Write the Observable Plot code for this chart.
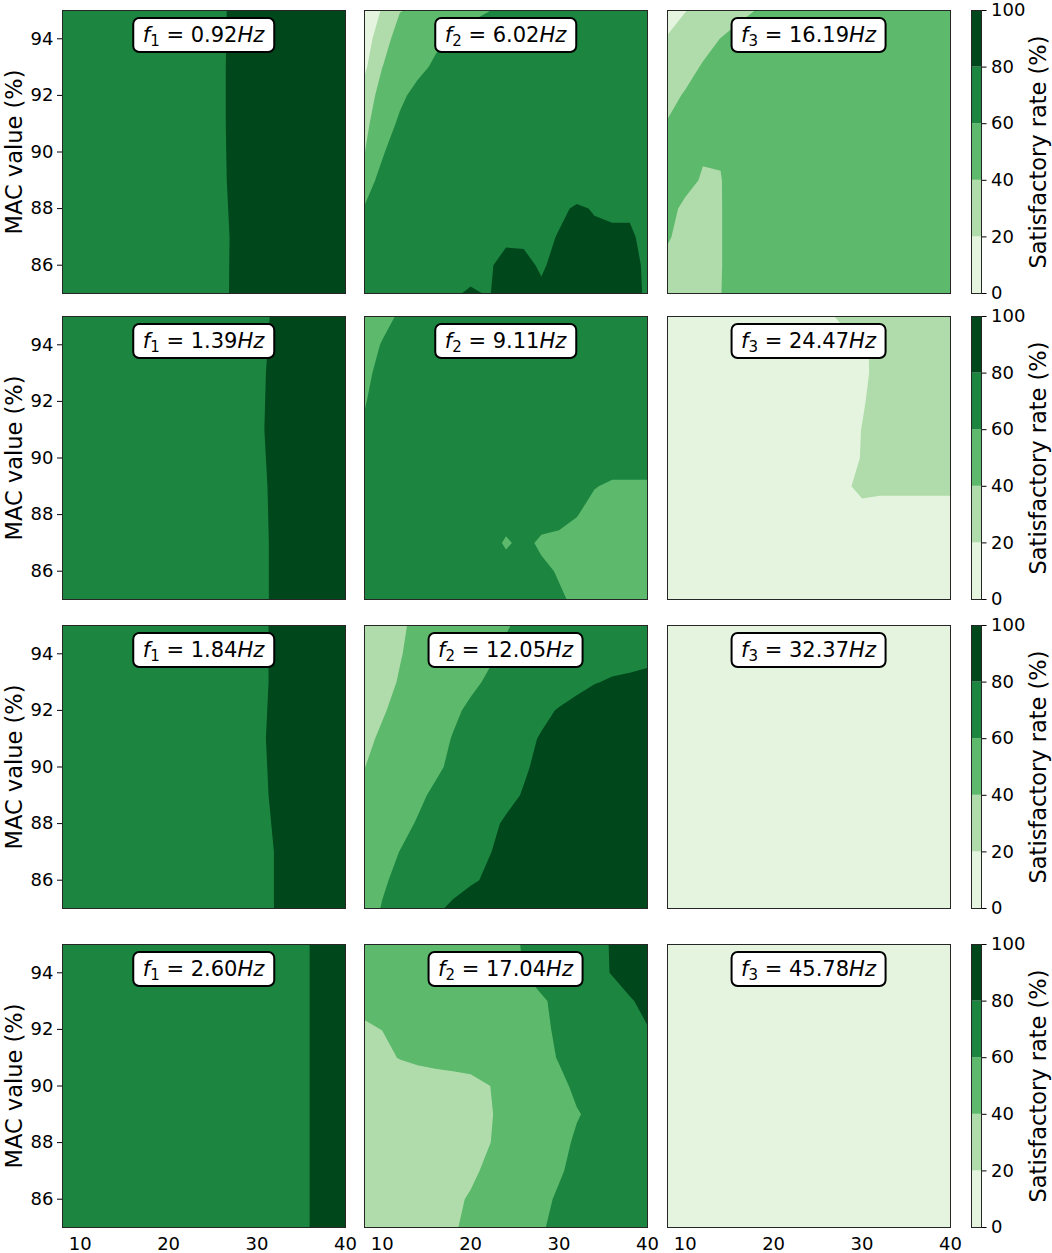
<!DOCTYPE html>
<html>
<head>
<meta charset="utf-8">
<script src="https://cdn.jsdelivr.net/npm/d3@7"></script>
<script src="https://cdn.jsdelivr.net/npm/@observablehq/plot@0.6"></script>
<style>
  body { margin: 0; background: #fff; font-family: "DejaVu Sans", sans-serif; }
  #fig { position: relative; width: 1052px; height: 1253px; overflow: hidden; background: #fff; }
  #fig svg { position: absolute; overflow: visible; }
  .flabel {
    position: absolute; transform: translateX(-50%);
    background: #fff; border: 2px solid #000; border-radius: 7px;
    font-family: "DejaVu Sans", sans-serif; font-size: 21px; line-height: 26px;
    padding: 3px 9px; white-space: nowrap; color: #000;
  }
  .flabel sub { font-size: 15px; vertical-align: -4px; line-height: 0; }
</style>
</head>
<body>
<div id="fig"></div>
<script>
// ---------------- data ----------------
const xDomain = [8, 40];            // scan parameter axis
const yDomain = [85, 95];           // MAC value (%)
const xTicks = [10, 20, 30, 40];
const yTicks = [86, 88, 90, 92, 94];
const levels = [0, 20, 40, 60, 80, 100];   // satisfactory rate (%) contour levels
const bandColors = ["#e4f4df", "#b0dcab", "#5db96b", "#1c8641", "#00471c"];

const f1Values = ["0.92", "1.39", "1.84", "2.60"];
const f2Values = ["6.02", "9.11", "12.05", "17.04"];
const f3Values = ["16.19", "24.47", "32.37", "45.78"];

// Grids of satisfactory rate (%): rows from MAC = 95 (top) down to 85, columns x = 8 .. 40
const p11 = [
  [70,70,70,70,70,70,70,70,70,76,90,90,90,90,90,90,90],
  [70,70,70,70,70,70,70,70,70,77,90,90,90,90,90,90,90],
  [70,70,70,70,70,70,70,70,70,77,90,90,90,90,90,90,90],
  [70,70,70,70,70,70,70,70,70,76,90,90,90,90,90,90,90],
  [70,70,70,70,70,70,70,70,70,72,90,90,90,90,90,90,90],
  [70,70,70,70,70,70,70,70,70,73,90,90,90,90,90,90,90]
];
const p12 = [
  [6,21.5,39.2,43.3,48,52,56,59.5,65,68,70,70,70,70,70,70,70],
  [11,31,49,52,56,63,66,69,70,70,70,70,70,70,70,70,70],
  [16.5,39.8,48,55,63,67,70,70,70,70,70,70,70,70,70,70,70],
  [28,48,56,66,70,70,70,70,70,70,70,70,70,70,70,70,70],
  [36,50,63.3,68,70,70,70,70,70,70,70,70,70,70,70,70,70],
  [39.5,58,71,70,70,70,70,70,70,70,70,70,70,70,70,70,70],
  [52,65.3,70,70,70,70,70,70,70,70,70,70,70,70,70,70,70],
  [61,66,70,70,70,70,70,70,70,70,70,77,82,79,78,78,72],
  [64,68,70,70,70,70,70,74,77,77,76,81,84,83,82,82,76],
  [66,70,70,70,70,72,74,78,85,84,78,85,88,88,87,85,77],
  [67,70,70,70,70,78,82,79,86,86,83,88,90,90,89,87,77]
];
const p13 = [
  [14,19.5,24.7,30,35,40.3,50,50,50,50,50,50,50,50,50,50,50],
  [21,27,34,40.3,46,50,50,50,50,50,50,50,50,50,50,50,50],
  [28,34,41.5,47,50,50,50,50,50,50,50,50,50,50,50,50,50],
  [35,41.5,47,50,50,50,50,50,50,50,50,50,50,50,50,50,50],
  [41,46,48,50,50,50,50,50,50,50,50,50,50,50,50,50,50],
  [46,45,42,41,48,50,50,50,50,50,50,50,50,50,50,50,50],
  [48,46,38,39.5,46,50,50,50,50,50,50,50,50,50,50,50,50],
  [46,36,32,39,50,50,50,50,50,50,50,50,50,50,50,50,50],
  [42,33,30,39,50,50,50,50,50,50,50,50,50,50,50,50,50],
  [35,30,30,39,50,50,50,50,50,50,50,50,50,50,50,50,50],
  [32,30,30,39.5,50,50,50,50,50,50,50,50,50,50,50,50,50]
];
const p21 = [
  [70,70,70,70,70,70,70,70,70,70,70,70,84,90,90,90,90],
  [70,70,70,70,70,70,70,70,70,70,70,70,90,90,90,90,90],
  [70,70,70,70,70,70,70,70,70,70,70,73,90,90,90,90,90],
  [70,70,70,70,70,70,70,70,70,70,70,70,87,90,90,90,90],
  [70,70,70,70,70,70,70,70,70,70,70,70,85,90,90,90,90],
  [70,70,70,70,70,70,70,70,70,70,70,70,85,90,90,90,90]
];
const p22 = [
  [50,55,62,70,70,70,70,70,70,70,70,70,70,70,70,70,70],
  [53,61,70,70,70,70,70,70,70,70,70,70,70,70,70,70,70],
  [56,65,70,70,70,70,70,70,70,70,70,70,70,70,70,70,70],
  [59,67,70,70,70,70,70,70,70,70,70,70,70,70,70,70,70],
  [62,68,70,70,70,70,70,70,70,70,70,70,70,70,70,70,70],
  [66,70,70,70,70,70,70,70,70,70,70,70,70,70,70,70,70],
  [70,70,70,70,70,70,70,70,70,70,70,70,70,61,57,57,57],
  [70,70,70,70,70,70,70,70,70,70,70,70,61,52,50,50,50],
  [70,70,70,70,70,70,70,70,57,66,56,52,50,50,50,50,50],
  [70,70,70,70,70,70,70,70,70,70,65,58,50,50,50,50,50],
  [70,70,70,70,70,70,70,70,70,70,70,63,56,50,50,50,50]
];
const p23 = [
  [10,10,10,10,10,10,10,10,10,16,25,28,30,30,30,30,30],
  [10,10,10,10,10,10,10,10,10,10,13,17,25,28,28,28,28],
  [10,10,10,10,10,10,10,10,10,10,12,16,26,30,30,30,30],
  [10,10,10,10,10,10,10,10,10,10,12,18,28,30,30,30,30],
  [10,10,10,10,10,10,10,10,10,10,12,20.5,28,30,30,30,30],
  [10,10,10,10,10,10,10,10,10,10,13,21,27,27,27,27,27],
  [10,10,10,10,10,10,10,10,10,10,18,23,22,22,22,22,22],
  [10,10,10,10,10,10,10,10,10,10,10,16,16,16,16,16,16],
  [10,10,10,10,10,10,10,10,10,10,10,10,10,10,10,10,10],
  [10,10,10,10,10,10,10,10,10,10,10,10,10,10,10,10,10],
  [10,10,10,10,10,10,10,10,10,10,10,10,10,10,10,10,10]
];
const p31 = [
  [70,70,70,70,70,70,70,70,70,70,70,70,85.4,90,90,90,90],
  [70,70,70,70,70,70,70,70,70,70,70,70,85.4,90,90,90,90],
  [70,70,70,70,70,70,70,70,70,70,70,70,90,90,90,90,90],
  [70,70,70,70,70,70,70,70,70,70,70,70,85.4,90,90,90,90],
  [70,70,70,70,70,70,70,70,70,70,70,70,80.5,90,90,90,90],
  [70,70,70,70,70,70,70,70,70,70,70,70,80.5,90,90,90,90]
];
const p32 = [
  [30,34,38.6,42.05,45.5,48.9,52.3,55.7,59.1,62.6,66,69,71,73,74,75,76],
  [30,35,39.4,43.2,46.9,50.6,54.4,58.1,61.9,65,68,70,72,74,76,77,78],
  [33,36.6,40.8,45.1,49.3,53.5,57.7,61.4,64.4,67.4,70.4,73.5,76.5,79.5,81,81.5,82],
  [34,38.8,43.6,48.3,53.1,57.9,62.1,65.9,69.6,73.4,77.2,80.9,84,86,87,87,88],
  [37.2,41.9,46.6,51.3,56,60.6,64.7,68.8,72.9,76.9,81,85,88,90,90,90,90],
  [39.8,44.3,48.9,53.4,58,62.2,66.3,70.4,74.5,78.6,82.7,87,90,90,90,90,90],
  [44.5,49,53.5,57.8,62,65.7,69.5,73.2,77,80.8,84.6,88,90,90,90,90,90],
  [48,52,56.7,60.8,65,69.1,73.2,77.3,81.4,85.6,89,90,90,90,90,90,90],
  [52.5,56.4,60.2,64,67.8,71.7,75.5,79.3,83.2,87,90,90,90,90,90,90,90],
  [54.8,58.6,62.5,66.4,70.3,74.2,78.1,82,85.8,89,90,90,90,90,90,90,90],
  [55,60.6,66.1,71.7,77.2,82.8,88,90,90,90,90,90,90,90,90,90,90]
];
const p33 = [
  [10,10],
  [10,10]
];
const p41 = [
  [70,70,70,70,70,70,70,70,70,70,70,70,70,70,80.3,90,90],
  [70,70,70,70,70,70,70,70,70,70,70,70,70,70,80.3,90,90]
];
const p42 = [
  [44,45,46,47,48,50,52,54,56.8,60.8,64.8,68.8,72.8,76.8,80.8,84.8,88],
  [43,44,45,46,47,49,51,53.5,55.9,60.1,64.1,68.2,72.4,76.5,80.6,84.7,88],
  [42,43,44,45,46,47.5,49,50.5,52.5,54.5,58.6,62.7,66.7,70.8,74.9,79,83],
  [39,40.1,42,44,46,48,50,52,54,56,58,61.6,64.5,67.5,70.5,73.5,79.5],
  [35,37.5,40.5,42.5,44.5,46.5,48.5,50.5,52.5,54.5,56.5,60.7,64,67,70,72,74],
  [34,35,33,33,33,33,34,39.5,44,48.5,53,57.5,62,66,68,70,72],
  [32,30,30,30,31,32,34,38.5,44,48,52,56,59.3,62.2,66,68,70],
  [30,30,30,30,30,30,34,39.2,45,49,53,57,61.5,65,68,70,70],
  [30,30,30,30,30,32,37,43,47,51,55,58.8,63,67,70,70,70],
  [30,30,30,30,33,37,41.5,45.5,49.5,53.5,57.4,61.5,65.5,69,70,70,70],
  [30,30,30,30,34,38.6,43.2,47,51,55,59,63,67,70,70,70,70]
];
const p43 = [
  [10,10],
  [10,10]
];

const grids = [[p11, p12, p13], [p21, p22, p23], [p31, p32, p33], [p41, p42, p43]];
const freqs = [f1Values, f2Values, f3Values];

// ---------------- layout ----------------
const rowTops = [10, 316, 625, 944];
const colLefts = [62, 364, 667];
const FW = 283, FH = 283;
const cbLeft = 971, cbW = 10;
const FONT = "DejaVu Sans";

const fig = document.getElementById("fig");
const colorScale = {type: "threshold", domain: levels.slice(1, -1), range: bandColors};

function place(svg, left, top) {
  svg.style.left = left + "px";
  svg.style.top = top + "px";
  fig.appendChild(svg);
}

function panel(rows, r, c) {
  const h = rows.length, w = rows[0].length;
  const dx = (xDomain[1] - xDomain[0]) / (w - 1);
  const dy = (yDomain[1] - yDomain[0]) / (h - 1);
  const isLeft = c === 0, isBottom = r === 3;
  const ml = isLeft ? 62 : 1, mr = 1, mt = 1, mb = isBottom ? 30 : 1;
  const svg = Plot.plot({
    width: FW + ml + mr, height: FH + mt + mb,
    marginLeft: ml, marginRight: mr, marginTop: mt, marginBottom: mb,
    style: {fontFamily: FONT, fontSize: "18px", color: "#000", background: "transparent", overflow: "visible"},
    x: {domain: xDomain, axis: null},
    y: {domain: yDomain, axis: null},
    color: colorScale,
    marks: [
      Plot.contour(rows.flat(), {
        width: w, height: h,
        x1: xDomain[0] - dx / 2, x2: xDomain[1] + dx / 2,
        y1: yDomain[1] + dy / 2, y2: yDomain[0] - dy / 2,
        fill: Plot.identity, thresholds: levels.slice(0, -1), clip: true
      }),
      Plot.frame({stroke: "#262626", strokeWidth: 1}),
      isLeft ? Plot.axisY(yTicks, {tickSize: 5, tickPadding: 4, label: null}) : null,
      isLeft ? Plot.text(["MAC value (%)"], {text: d => d, frameAnchor: "left", textAnchor: "middle", lineAnchor: "middle", rotate: -90, dx: -48, fontSize: 22.5}) : null,
      isBottom ? Plot.axisX(xTicks, {tickSize: 0, tickPadding: 10, label: null}) : null
    ]
  });
  place(svg, colLefts[c] - ml, rowTops[r] - mt);

  const box = document.createElement("div");
  box.className = "flabel";
  box.innerHTML = `<i>f</i><sub>${c + 1}</sub> = ${freqs[c][r]}<i>Hz</i>`;
  box.style.left = (colLefts[c] + FW / 2) + "px";
  box.style.top = (rowTops[r] + 7) + "px";
  fig.appendChild(box);
}

function colorbar(r) {
  const mt = 12, mb = 12, mr = 75;
  const bands = levels.slice(0, -1);
  const svg = Plot.plot({
    width: cbW + mr, height: FH + mt + mb,
    marginLeft: 0, marginRight: mr, marginTop: mt, marginBottom: mb,
    style: {fontFamily: FONT, fontSize: "18px", color: "#000", background: "transparent", overflow: "visible"},
    x: {domain: [0, 1], axis: null},
    y: {domain: [levels[0], levels[levels.length - 1]], axis: null},
    color: colorScale,
    marks: [
      Plot.rect(bands, {x1: 0, x2: 1, y1: d => d, y2: (d, i) => levels[i + 1], fill: d => d}),
      Plot.frame({stroke: "#262626", strokeWidth: 1}),
      Plot.axisY(levels, {anchor: "right", tickSize: 4.5, tickPadding: 5, label: null}),
      Plot.text(["Satisfactory rate (%)"], {text: d => d, frameAnchor: "right", textAnchor: "middle", lineAnchor: "middle", rotate: -90, dx: 57, fontSize: 22.5})
    ]
  });
  place(svg, cbLeft, rowTops[r] - mt);
}

for (let r = 0; r < 4; r++) {
  for (let c = 0; c < 3; c++) panel(grids[r][c], r, c);
  colorbar(r);
}
</script>
</body>
</html>
